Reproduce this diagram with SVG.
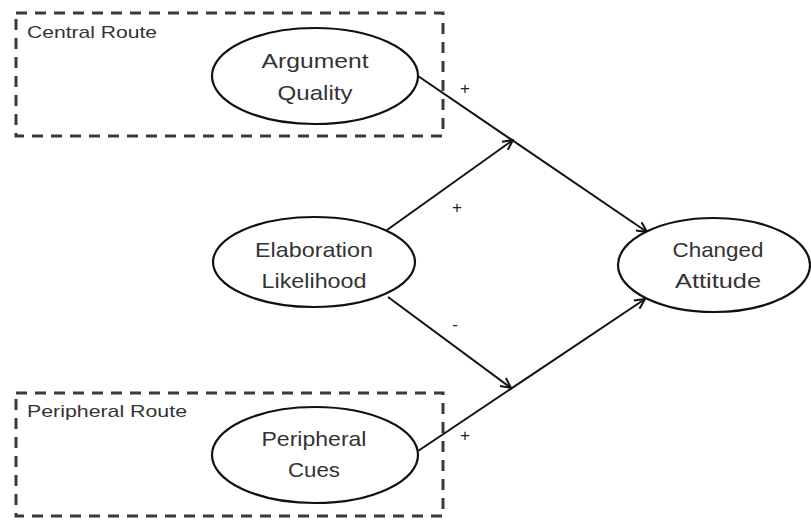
<svg xmlns="http://www.w3.org/2000/svg" width="811" height="522" viewBox="0 0 811 522">
<defs>
<style>
.box{fill:none;stroke:#3a3a3a;stroke-width:3;stroke-dasharray:11 8}
.node{fill:#fff;stroke:#111;stroke-width:2.2}
.t{font-family:"Liberation Sans",Arial,sans-serif;font-size:21px;fill:#333;text-anchor:middle}
.r{font-family:"Liberation Sans",Arial,sans-serif;font-size:17px;fill:#333}
.s{font-family:"Liberation Sans",Arial,sans-serif;font-size:17px;fill:#222;text-anchor:middle}
.c{fill:none;stroke:#111;stroke-width:2;marker-end:url(#arr)}
</style>
<marker id="arr" viewBox="0 0 12 12" refX="11" refY="6" markerWidth="12" markerHeight="12" markerUnits="userSpaceOnUse" orient="auto">
<path d="M1,1 L11,6 L1,11" fill="none" stroke="#111" stroke-width="2"/>
</marker>
</defs>
<rect width="811" height="522" fill="#fff"/>
<g id="central-route">
<rect class="box" x="16" y="13" width="427" height="123"/>
<text class="r" x="27" y="38" textLength="130" lengthAdjust="spacingAndGlyphs">Central Route</text>
</g>
<g id="peripheral-route">
<rect class="box" x="16" y="393" width="427" height="123"/>
<text class="r" x="27" y="417" textLength="160" lengthAdjust="spacingAndGlyphs">Peripheral Route</text>
</g>
<g id="connectors">
<line class="c" x1="418" y1="76" x2="647" y2="232"/>
<line class="c" x1="387" y1="230" x2="513" y2="140"/>
<line class="c" x1="388" y1="297" x2="511" y2="388"/>
<line class="c" x1="418" y1="451" x2="645" y2="299"/>
<text class="s" x="465" y="94">+</text>
<text class="s" x="457" y="213">+</text>
<text class="s" x="455" y="330">-</text>
<text class="s" x="465" y="441">+</text>
</g>
<g id="argument-quality">
<ellipse class="node" cx="315" cy="76" rx="103" ry="48"/>
<text class="t" x="315" y="68" textLength="107" lengthAdjust="spacingAndGlyphs">Argument</text>
<text class="t" x="315" y="100" textLength="75" lengthAdjust="spacingAndGlyphs">Quality</text>
</g>
<g id="elaboration-likelihood">
<ellipse class="node" cx="314" cy="262" rx="101" ry="45"/>
<text class="t" x="314" y="257" textLength="118" lengthAdjust="spacingAndGlyphs">Elaboration</text>
<text class="t" x="314" y="288" textLength="105" lengthAdjust="spacingAndGlyphs">Likelihood</text>
</g>
<g id="changed-attitude">
<ellipse class="node" cx="714" cy="265" rx="96" ry="47"/>
<text class="t" x="718" y="257" textLength="91" lengthAdjust="spacingAndGlyphs">Changed</text>
<text class="t" x="718" y="288" textLength="86" lengthAdjust="spacingAndGlyphs">Attitude</text>
</g>
<g id="peripheral-cues">
<ellipse class="node" cx="315" cy="455" rx="103" ry="48"/>
<text class="t" x="314" y="446" textLength="105" lengthAdjust="spacingAndGlyphs">Peripheral</text>
<text class="t" x="314" y="477" textLength="52" lengthAdjust="spacingAndGlyphs">Cues</text>
</g>
</svg>
